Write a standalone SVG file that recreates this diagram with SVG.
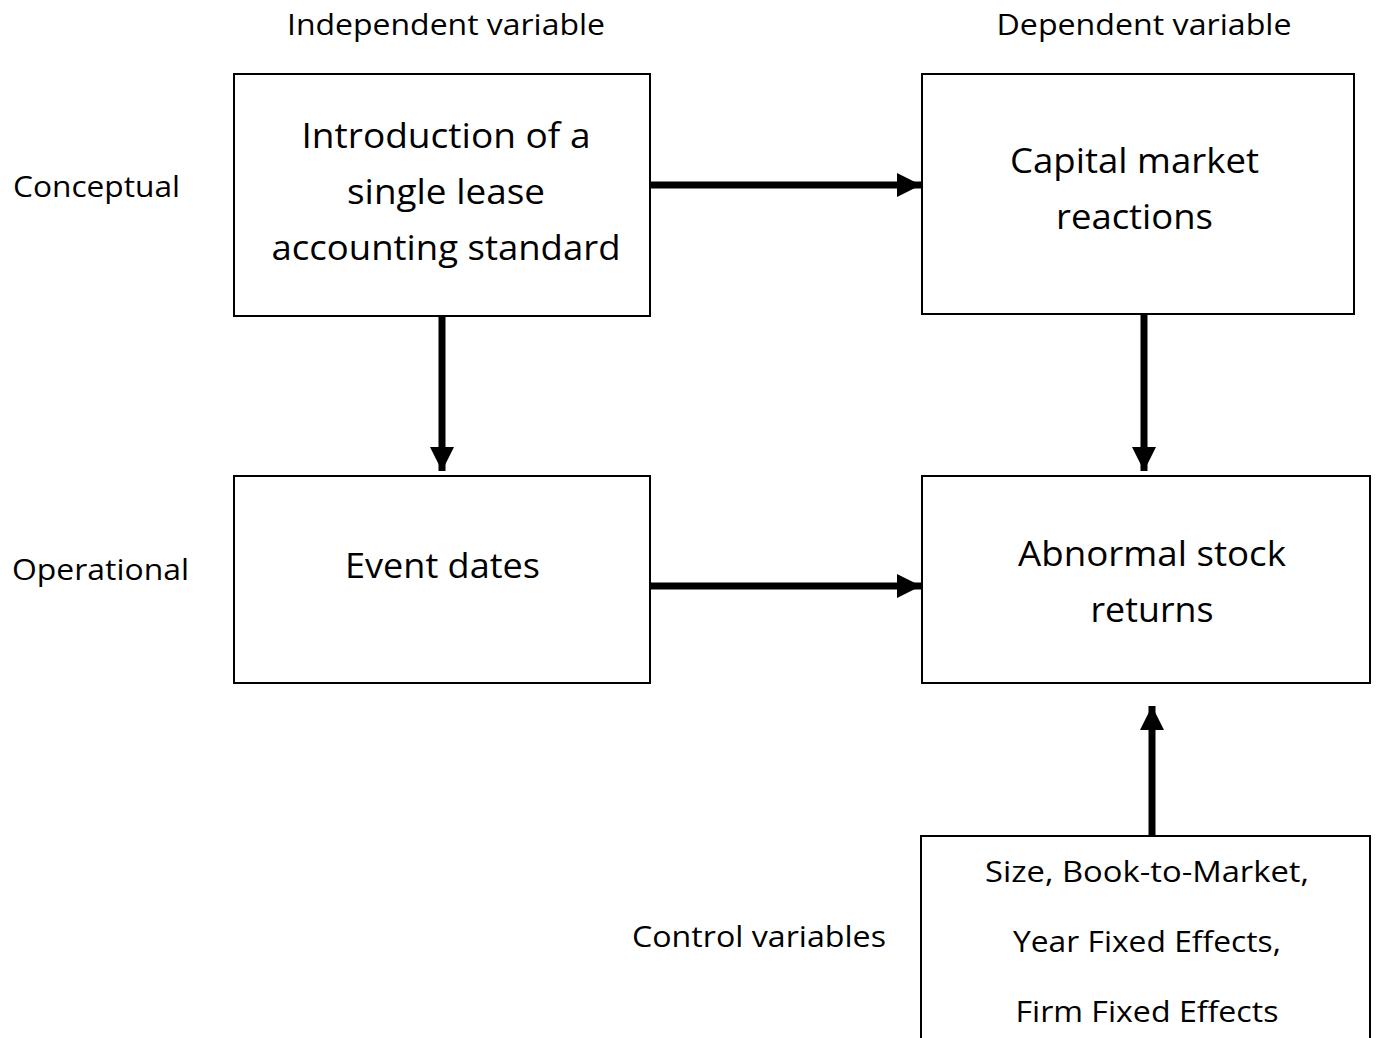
<svg xmlns="http://www.w3.org/2000/svg" width="1378" height="1038" viewBox="0 0 1378 1038">
<style>
.box{fill:#fff;stroke:#000;stroke-width:2}
.big{font-family:"Open Sans","Liberation Sans",sans-serif;font-size:35px;fill:#000;text-anchor:middle}
.mid{font-family:"Open Sans","Liberation Sans",sans-serif;font-size:29px;fill:#000;text-anchor:middle}
.lbl{font-family:"Open Sans","Liberation Sans",sans-serif;font-size:29.5px;fill:#000}
.conn{stroke:#000;stroke-width:7;fill:none}
</style>
<defs>
<marker id="ah" viewBox="0 0 24 24" refX="24" refY="12" markerWidth="24" markerHeight="24" markerUnits="userSpaceOnUse" orient="auto">
<path d="M0,0 L24,12 L0,24 Z" fill="#000"/>
</marker>
</defs>
<rect width="1378" height="1038" fill="#fff"/>
<text class="lbl" x="446" y="35" text-anchor="middle" textLength="318" lengthAdjust="spacingAndGlyphs">Independent variable</text>
<text class="lbl" x="1144" y="35" text-anchor="middle" textLength="295" lengthAdjust="spacingAndGlyphs">Dependent variable</text>
<text class="lbl" x="13" y="197" textLength="167" lengthAdjust="spacingAndGlyphs">Conceptual</text>
<text class="lbl" x="12" y="580" textLength="177" lengthAdjust="spacingAndGlyphs">Operational</text>
<text class="lbl" x="632" y="947" textLength="254" lengthAdjust="spacingAndGlyphs">Control variables</text>
<g id="connectors">
<line class="conn" x1="651" y1="185" x2="921" y2="185" marker-end="url(#ah)"/>
<line class="conn" x1="442" y1="316" x2="442" y2="471" marker-end="url(#ah)"/>
<line class="conn" x1="1144" y1="314" x2="1144" y2="471" marker-end="url(#ah)"/>
<line class="conn" x1="651" y1="586" x2="921" y2="586" marker-end="url(#ah)"/>
<line class="conn" x1="1152" y1="836" x2="1152" y2="706" marker-end="url(#ah)"/>
</g>
<g id="node-intro">
<rect class="box" x="234" y="74" width="416" height="242"/>
<text class="big" x="446" y="148" textLength="289" lengthAdjust="spacingAndGlyphs">Introduction of a</text>
<text class="big" x="446" y="204" textLength="198" lengthAdjust="spacingAndGlyphs">single lease</text>
<text class="big" x="446" y="260" textLength="349" lengthAdjust="spacingAndGlyphs">accounting standard</text>
</g>
<g id="node-capital">
<rect class="box" x="922" y="74" width="432" height="240"/>
<text class="big" x="1134.5" y="173" textLength="249" lengthAdjust="spacingAndGlyphs">Capital market</text>
<text class="big" x="1134.5" y="229" textLength="157" lengthAdjust="spacingAndGlyphs">reactions</text>
</g>
<g id="node-event">
<rect class="box" x="234" y="476" width="416" height="207"/>
<text class="big" x="442.5" y="578" textLength="195" lengthAdjust="spacingAndGlyphs">Event dates</text>
</g>
<g id="node-abnormal">
<rect class="box" x="922" y="476" width="448" height="207"/>
<text class="big" x="1152" y="566" textLength="268" lengthAdjust="spacingAndGlyphs">Abnormal stock</text>
<text class="big" x="1152" y="622" textLength="123" lengthAdjust="spacingAndGlyphs">returns</text>
</g>
<g id="node-controls">
<rect class="box" x="921" y="836" width="449" height="220"/>
<text class="mid" x="1147" y="882" textLength="324" lengthAdjust="spacingAndGlyphs">Size, Book-to-Market,</text>
<text class="mid" x="1147" y="952" textLength="268" lengthAdjust="spacingAndGlyphs">Year Fixed Effects,</text>
<text class="mid" x="1147" y="1022" textLength="263" lengthAdjust="spacingAndGlyphs">Firm Fixed Effects</text>
</g>
</svg>
